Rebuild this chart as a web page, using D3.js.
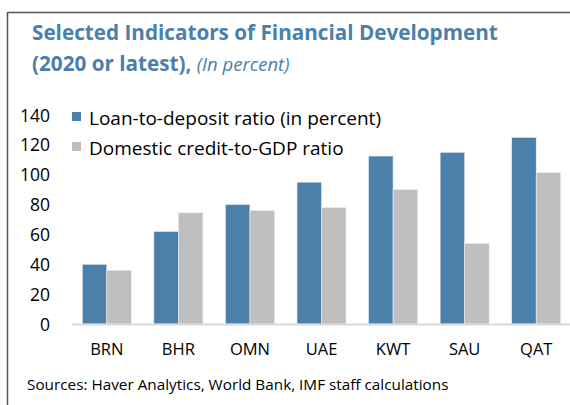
<!DOCTYPE html>
<html><head><meta charset="utf-8">
<script src="https://cdn.jsdelivr.net/npm/d3@7"></script>
<style>
html,body{margin:0;padding:0;background:#fff;}
svg{display:block;font-family:"Open Sans",sans-serif;}
</style></head>
<body><svg id="c" width="570" height="405"></svg>
<script>
const categories = ["BRN","BHR","OMN","UAE","KWT","SAU","QAT"];
const seriesNames = ["Loan-to-deposit ratio (in percent)","Domestic credit-to-GDP ratio"];
const loanToDeposit = [40, 62, 80, 95, 112.5, 115, 125];
const creditToGDP = [36, 74.5, 76, 78, 90, 54, 101.5];
const yTicks = [0,20,40,60,80,100,120,140];
const colors = ["#4b80aa","#bfbfbf"];

const svg = d3.select("#c");
// frame
svg.append("line").attr("x1",7.5).attr("x2",570).attr("y1",12.5).attr("y2",12.5).attr("stroke","#555").attr("stroke-width",1.5);
svg.append("line").attr("x1",7.5).attr("x2",7.5).attr("y1",12).attr("y2",405).attr("stroke","#555").attr("stroke-width",1.5);

// title
svg.append("text").attr("x",32).attr("y",40).attr("fill","#4b80aa").attr("font-weight","bold").attr("font-size",20.7)
  .text("Selected Indicators of Financial Development");
const t2 = svg.append("text").attr("x",32).attr("y",71).attr("fill","#4b80aa").attr("font-size",20.7);
t2.append("tspan").attr("font-weight","bold").text("(2020 or latest), ");
t2.append("tspan").attr("font-style","italic").attr("font-size",18.5).text("(In percent)");

const x = d3.scaleBand().domain(categories).range([71,572]).paddingInner(0.315).paddingOuter(0.1575);
const xs = d3.scaleBand().domain([0,1]).range([0,x.bandwidth()]);
const y = d3.scaleLinear().domain([0,140]).range([324,115]);

// y axis labels
const yAxis = d3.axisLeft(y).tickValues(yTicks).tickSize(0).tickPadding(0);
const ya = svg.append("g").attr("transform","translate(50,0)").call(yAxis);
ya.select(".domain").remove();
ya.selectAll("text").attr("font-family","Open Sans").attr("font-size",17.5).attr("fill","#000").attr("dy","0.35em");

// bars
const data = categories.map((c,i)=>({c, v:[loanToDeposit[i], creditToGDP[i]]}));
const g = svg.append("g");
data.forEach(d=>{
  d.v.forEach((v,j)=>{
    g.append("rect").attr("x",x(d.c)+xs(j)).attr("width",xs.bandwidth())
     .attr("y",y(v)).attr("height",y(0)-y(v)).attr("fill",colors[j])
     .attr("stroke","#e8eef4").attr("stroke-width",0.6);
  });
});

// x axis
const xAxis = d3.axisBottom(x).tickSize(0).tickPadding(0);
const xa = svg.append("g").attr("transform",`translate(0,${y(0)})`).call(xAxis);
xa.select(".domain").attr("stroke","#d9d9d9").attr("stroke-width",2);
xa.selectAll("text").attr("font-family","Open Sans").attr("font-size",16.5).attr("fill","#000").attr("dy","1.85em");

// legend
const lg = svg.append("g");
seriesNames.forEach((s,i)=>{
  lg.append("rect").attr("x",72).attr("y",112+i*30).attr("width",9).attr("height",9).attr("fill",colors[i]);
  lg.append("text").attr("x",89).attr("y",124.5+i*30).attr("font-size",19).attr("fill","#000").text(s);
});

// source
svg.append("text").attr("x",27).attr("y",390).attr("font-size",15.3).attr("fill","#000")
  .text("Sources: Haver Analytics, World Bank, IMF staff calculations");
</script></body></html>
